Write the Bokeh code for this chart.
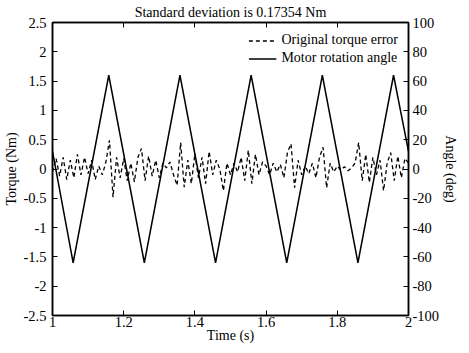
from bokeh.plotting import figure
from bokeh.models import Range1d, LinearAxis, FixedTicker, Legend, LegendItem
from bokeh.embed import file_html
from bokeh.resources import INLINE

# Data
time_s = [round(1.0 + 0.01 * i, 2) for i in range(101)]
torque_err = [
    -0.05, 0.18, -0.12, 0.20, -0.18, 0.15, -0.15, 0.25, -0.10, 0.20,
    -0.08, 0.15, -0.18, 0.05, -0.10, 0.12, 0.49, -0.48, 0.20, -0.15,
    0.18, -0.20, 0.10, -0.22, 0.20, 0.35, -0.20, 0.22, -0.12, 0.15,
    -0.15, 0.10, 0.02, 0.12, -0.10, -0.28, 0.45, -0.31, 0.15, -0.25,
    0.26, -0.15, 0.20, -0.25, 0.30, -0.10, 0.15, 0.00, -0.37, 0.10,
    -0.10, 0.10, -0.05, 0.20, -0.20, 0.32, -0.25, 0.25, -0.10, 0.12,
    0.05, -0.10, 0.10, -0.05, 0.08, -0.15, 0.28, 0.43, -0.32, 0.15,
    -0.10, 0.05, -0.08, 0.10, -0.15, 0.20, 0.37, -0.32, 0.10, -0.05,
    0.05, -0.02, 0.04, -0.03, 0.02, 0.10, 0.45, -0.20, 0.25, -0.23,
    0.20, -0.10, 0.15, -0.37, 0.10, 0.28, -0.20, 0.22, -0.15, 0.18,
    0.10,
]
angle_t = [1.0, 1.058, 1.158, 1.258, 1.358, 1.458, 1.558, 1.658, 1.758, 1.858, 1.958, 2.0]
angle_deg = [12, -64, 64, -64, 64, -64, 64, -64, 64, -64, 64, 12]

left_ticks = [-2.5, -2, -1.5, -1, -0.5, 0, 0.5, 1, 1.5, 2, 2.5]
left_labels = ["-2.5", "-2", "-1.5", "-1", "-0.5", "0", "0.5", "1", "1.5", "2", "2.5"]
right_ticks = [-100, -80, -60, -40, -20, 0, 20, 40, 60, 80, 100]
right_labels = ["-100", "-80", "-60", "-40", "-20", "0", "20", "40", "60", "80", "100"]
x_ticks = [1, 1.2, 1.4, 1.6, 1.8, 2]
x_labels = ["1", "1.2", "1.4", "1.6", "1.8", "2"]

FONT = "Liberation Serif"
TICK_FS = "14.5px"
LABEL_FS = "14px"

p = figure(width=461, height=345, output_backend="svg", toolbar_location=None,
           x_range=Range1d(1, 2), y_range=Range1d(-2.5, 2.5),
           min_border_left=45, min_border_right=30, min_border_top=18, min_border_bottom=28)
p.extra_y_ranges = {"angle": Range1d(-100, 100)}

p.title.text = "Standard deviation is 0.17354 Nm"
p.title.align = "center"
p.title.text_font = FONT
p.title.text_font_size = LABEL_FS
p.title.text_font_style = "normal"
p.title.text_color = "black"
p.title.standoff = 5

p.xgrid.visible = False
p.ygrid.visible = False
p.outline_line_color = "black"
p.outline_line_width = 1.5
p.outline_line_alpha = 1

def style_axis(ax, ticks, labels):
    ax.ticker = FixedTicker(ticks=ticks)
    ax.major_label_overrides = {t: l for t, l in zip(ticks, labels)}
    ax.major_tick_in = 5
    ax.major_tick_out = 0
    ax.minor_tick_in = 0
    ax.minor_tick_out = 0
    ax.axis_line_width = 1.5
    ax.axis_line_color = "black"
    ax.major_tick_line_color = "black"
    ax.major_tick_line_width = 1
    ax.major_label_text_font = FONT
    ax.major_label_text_font_size = TICK_FS
    ax.major_label_text_color = "black"
    ax.axis_label_text_font = FONT
    ax.axis_label_text_font_size = LABEL_FS
    ax.axis_label_text_font_style = "normal"
    ax.axis_label_text_color = "black"
    ax.major_label_standoff = 2
    ax.axis_label_standoff = 0

xa = p.xaxis[0]
style_axis(xa, x_ticks, x_labels)
xa.axis_label = "Time (s)"
xa.major_label_standoff = 1
xa.axis_label_standoff = -2
ya = p.yaxis[0]
style_axis(ya, left_ticks, left_labels)
ya.axis_label = "Torque (Nm)"
ya.major_label_standoff = 6
ya.axis_label_standoff = 2

ra = LinearAxis(y_range_name="angle", axis_label="Angle (deg)")
style_axis(ra, right_ticks, right_labels)
ra.major_label_standoff = 4
ra.axis_label_standoff = 1
p.add_layout(ra, "right")

ta = LinearAxis()
style_axis(ta, x_ticks, x_labels)
ta.major_label_overrides = {t: "" for t in x_ticks}
ta.major_label_standoff = 0
p.add_layout(ta, "above")

r1 = p.line(time_s, torque_err, line_color="black", line_width=1.3, line_dash="4 3")
r2 = p.line(angle_t, angle_deg, line_color="black", line_width=1.5, y_range_name="angle")

legend = Legend(items=[LegendItem(label="Original torque error", renderers=[r1]),
                       LegendItem(label="Motor rotation angle", renderers=[r2])],
                location="top_right")
legend.label_text_font = FONT
legend.label_text_font_size = LABEL_FS
legend.label_text_color = "black"
legend.border_line_alpha = 0
legend.background_fill_alpha = 0
legend.glyph_width = 28
legend.glyph_height = 15
legend.label_height = 15
legend.spacing = 2
legend.padding = 2
legend.label_standoff = 5
legend.margin = 8
p.add_layout(legend)

open("out.html", "w").write(file_html(p, INLINE))
